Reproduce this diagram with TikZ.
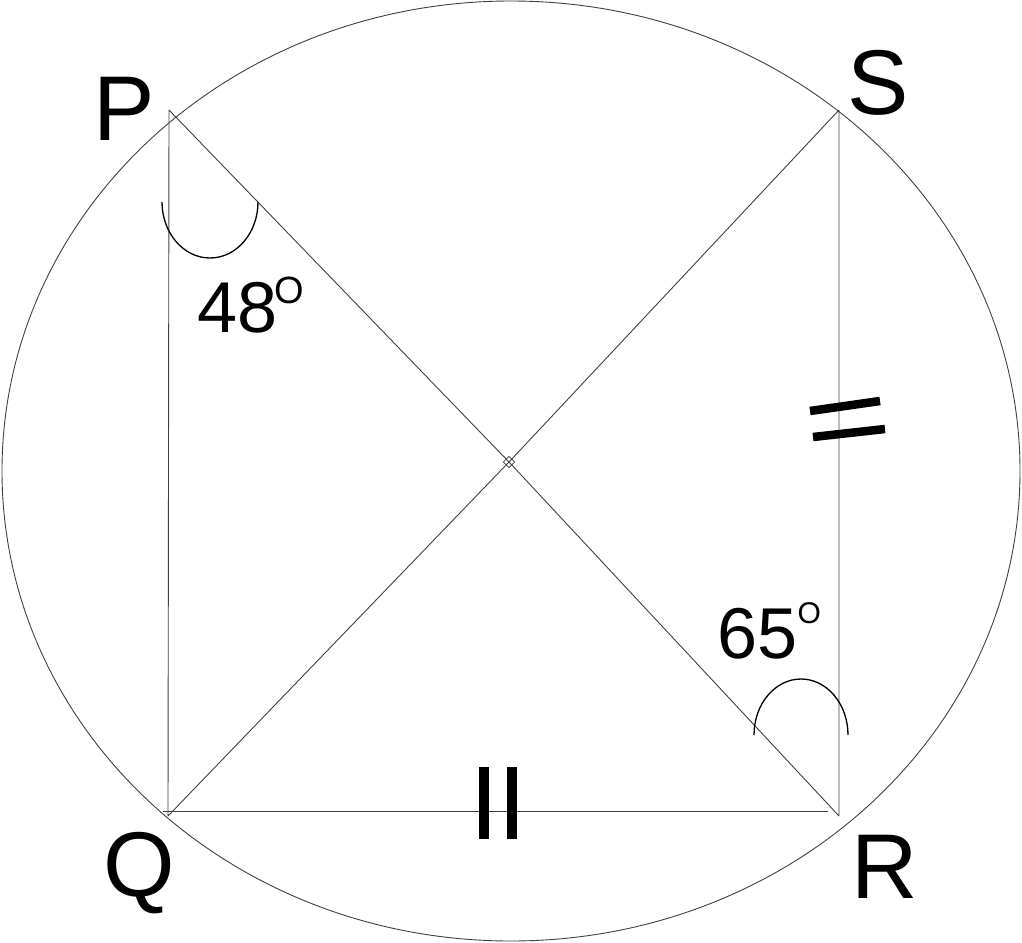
\documentclass[tikz,border=0pt]{standalone}
\usepackage{fontspec}
\setmainfont{Liberation Sans}
\usetikzlibrary{positioning}

\begin{document}
\begin{tikzpicture}[x=1pt,y=-1pt,
  line/.style={draw=black!75,line width=0.9pt},
  tick/.style={line width=8.5pt},
  arcmark/.style={line width=1.3pt},
  vlabel/.style={inner sep=0pt,anchor=base west,font=\fontsize{92}{92}\selectfont},
  anglabel/.style={inner sep=0pt,anchor=base west,font=\fontsize{72}{72}\selectfont},
  deg/.style={inner sep=0pt,anchor=base west}]
\useasboundingbox (0,0) rectangle (1022,942);
\coordinate (P) at (169,110);
\coordinate (Q) at (168,816);
\coordinate (R) at (839,816);
\coordinate (S) at (839,110);
\node[draw=black!75,line width=0.8pt,inner sep=0pt,minimum size=8pt,rotate=45] (O) at (509,462) {};
\draw[line] (511,471) ellipse [x radius=509,y radius=470];
\draw[line] (P) -- (Q) (S) -- (R) (P) -- (O.center) -- (R) (Q) -- (O.center) -- (S);
\draw[line] ([shift={(-5,-5)}]Q) -- ([shift={(-11,-5)}]R);
% equal sides
\draw[tick] (810,411) -- (880,401) (813,437) -- (885,429);
\draw[tick,line width=9.5pt] (484,767) -- (484,839) (512,767) -- (512,839);
% angles
\draw[arcmark] (162,202) arc[start angle=180,end angle=0,x radius=48,y radius=56];
\draw[arcmark] (754,735) arc[start angle=180,end angle=360,x radius=47,y radius=56];
\node[vlabel] (lP) at (93,140) {P};
\node[vlabel] (lS) at (847,114) {S};
\node[vlabel] (lQ) at (103,896) {Q};
\node[vlabel] (lR) at (851,898) {R};
\node[anglabel] (a48) at (197,332) {48};
\node[deg,font=\fontsize{38}{38}\selectfont] (a48o) at ([shift={(-3,-29)}]a48.base east) {O};
\node[anglabel] (a65) at (717,658) {65};
\node[deg,font=\fontsize{30}{30}\selectfont] (a65o) at ([shift={(0,-35)}]a65.base east) {O};
\end{tikzpicture}
\end{document}
